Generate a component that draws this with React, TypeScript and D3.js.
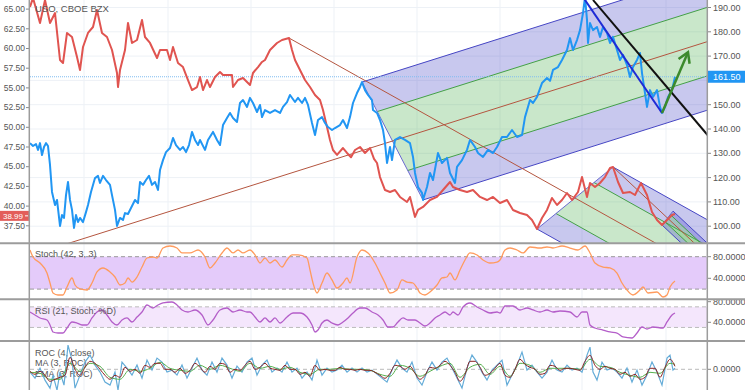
import React, { useEffect } from "react";
import * as d3 from "d3";

type P = [number, number];

// ---- price series (day index, price) ----
const usoClose: P[] = [[0,65.27],[3,66.41],[10,63.24],[15,66.15],[20,63.24],[25,64.5],[30,58.54],[33,58.16],[37,61.97],[42,61.46],[47,58.92],[50,57.27],[53,60.19],[58,61.97],[63,62.73],[67,64.89],[72,61.97],[77,61.46],[82,59.81],[87,56.89],[88,55.11],[90,57.27],[95,59.81],[98,63.24],[102,60.7],[107,61.08],[112,63.62],[115,61.46],[120,60.7],[127,58.79],[130,59.81],[137,59.81],[140,58.54],[143,60.19],[148,58.16],[153,57.65],[158,56.0],[162,54.73],[167,55.11],[170,56.38],[173,54.73],[177,56.0],[180,55.11],[185,56.38],[190,57.02],[193,56.64],[197,56.64],[202,56.64],[203,55.11],[208,56.0],[213,56.26],[220,55.37],[223,56.89],[228,57.65],[232,58.29],[235,58.54],[240,59.81],[247,60.7],[252,61.08],[259,61.33],[262,59.81],[265,58.54],[270,57.27],[275,56.0],[280,55.11],[285,54.1],[290,53.46],[293,52.2],[297,50.04],[300,48.39],[303,47.12],[307,46.5],[313,47.37],[317,46.74],[321,46.2],[325,47.12],[330,47.5],[335,46.74],[340,47.37],[344,46.0],[347,45.47],[350,43.69],[355,42.04],[360,41.79],[365,42.04],[370,41.16],[377,40.52],[380,41.16],[385,38.62],[388,39.51],[393,39.89],[400,40.77],[407,41.16],[413,42.04],[420,43.06],[423,42.42],[430,42.04],[437,41.79],[443,42.04],[450,41.16],[457,40.77],[463,41.16],[470,40.39],[477,40.77],[483,39.51],[490,39.12],[497,38.87],[502,38.24],[507,37.09],[512,38.49],[517,39.51],[522,41.03],[527,40.14],[532,40.77],[537,41.66],[542,40.77],[548,41.79],[552,43.69],[557,41.16],[560,42.93],[565,42.42],[570,42.93],[575,43.69],[580,44.84],[583,44.96],[588,43.06],[593,41.66],[600,41.79],[605,41.41],[611,42.93],[617,41.41],[622,39.25],[627,38.24],[632,37.6],[637,38.24],[642,38.87],[645,38.99]];

const bzxClose: P[] = [[0,134.2],[3,133.0],[6,133.8],[8,131.4],[10,134.2],[12,129.3],[14,132.6],[16,134.2],[18,133.0],[20,125.2],[22,114.1],[25,108.7],[27,110.8],[30,100.1],[32,104.6],[34,103.4],[36,112.8],[38,118.2],[40,110.8],[42,106.7],[44,99.3],[46,104.6],[48,101.7],[50,103.4],[53,101.7],[56,105.8],[58,108.7],[61,114.1],[65,119.8],[68,120.7],[70,117.8],[73,120.7],[76,119.0],[80,117.0],[82,112.8],[85,106.7],[87,100.1],[90,103.4],[93,102.6],[95,105.4],[98,105.0],[101,107.5],[105,110.8],[108,109.5],[110,118.2],[113,117.0],[116,119.0],[119,120.7],[122,117.0],[125,118.2],[128,114.9],[130,123.1],[133,127.2],[136,130.5],[140,132.2],[143,136.3],[146,133.4],[150,131.4],[153,132.6],[156,130.5],[159,133.4],[162,138.8],[165,135.5],[168,133.4],[170,135.5],[175,131.4],[178,135.5],[183,138.8],[187,135.5],[190,133.4],[193,141.6],[197,144.5],[200,146.6],[203,144.5],[207,142.9],[210,150.7],[213,151.9],[217,149.1],[220,152.8],[223,150.7],[227,147.0],[230,149.9],[232,144.9],[235,147.8],[240,146.6],[245,147.8],[250,146.6],[253,149.1],[257,151.1],[260,154.0],[265,151.1],[268,152.8],[272,150.7],[275,152.8],[278,149.9],[282,142.5],[285,137.5],[288,143.7],[292,144.9],[295,142.5],[298,140.8],[302,139.6],[305,140.4],[310,141.6],[313,143.7],[317,140.4],[320,144.9],[323,150.7],[327,154.8],[330,157.3],[332,159.3],[335,156.0],[338,154.0],[342,151.9],[343,147.8],[347,146.6],[350,143.7],[353,139.6],[355,134.2],[357,126.0],[360,132.6],[362,127.2],[365,135.5],[370,136.7],[375,135.5],[380,134.2],[383,128.5],[385,121.9],[388,116.1],[392,113.7],[393,110.8],[397,116.1],[400,121.9],[403,119.0],[408,130.1],[412,126.0],[417,128.1],[420,121.9],[425,117.8],[427,124.4],[432,127.2],[437,131.4],[440,135.5],[445,132.6],[448,130.1],[453,128.5],[458,131.4],[463,130.1],[467,132.6],[472,136.7],[477,136.7],[482,139.6],[487,136.7],[492,137.5],[495,144.9],[500,151.9],[503,150.7],[507,153.2],[512,158.9],[517,161.0],[520,159.8],[523,164.3],[528,165.5],[532,168.4],[537,172.5],[540,177.4],[543,172.5],[547,176.6],[550,180.7],[553,187.7],[555,194.3],[557,184.9],[558,175.4],[560,183.6],[563,180.7],[567,182.0],[570,177.9],[573,182.0],[577,179.5],[580,175.4],[583,177.9],[587,172.5],[590,168.4],[593,170.5],[597,166.3],[600,161.4],[603,165.5],[607,168.4],[610,171.3],[612,163.0],[615,154.8],[617,149.1],[620,156.0],[623,153.2],[627,156.0],[630,149.1],[632,146.6],[635,149.1],[638,153.2],[642,156.0],[645,161.5]];

// ---- indicators ----
const stochK: P[] = [[0,92.4],[3,79.4],[10,68.3],[17,49.8],[20,31.3],[23,12.8],[28,9.1],[33,9.1],[37,23.9],[42,40.6],[45,27.6],[50,20.2],[57,18.3],[62,31.3],[67,51.7],[73,59.1],[80,51.7],[85,42.4],[90,27.6],[95,31.3],[98,40.6],[102,33.1],[107,42.4],[112,60.9],[117,77.6],[123,79.4],[127,77.6],[133,96.1],[140,99.8],[147,96.1],[152,86.9],[160,86.9],[168,92.4],[175,79.4],[180,59.1],[185,68.3],[192,86.9],[197,96.1],[203,86.9],[208,92.4],[213,86.9],[220,92.4],[225,83.2],[230,68.3],[235,77.6],[240,68.3],[245,73.9],[252,60.9],[257,73.9],[262,83.2],[268,83.2],[277,77.6],[280,55.4],[283,31.3],[287,12.8],[292,31.3],[297,49.8],[302,36.9],[307,22.0],[313,31.3],[317,40.6],[320,31.3],[327,79.4],[332,92.4],[338,86.9],[345,68.3],[350,49.8],[355,31.3],[360,12.8],[367,18.3],[372,36.9],[377,33.1],[383,31.3],[387,22.0],[390,12.8],[395,9.1],[400,14.6],[407,27.6],[412,40.6],[417,42.4],[420,49.8],[425,36.9],[430,55.4],[435,73.9],[440,86.9],[447,83.2],[453,73.9],[460,68.3],[467,70.1],[470,73.9],[475,92.4],[480,96.1],[487,92.4],[493,86.9],[500,98.0],[510,96.1],[517,98.0],[523,96.1],[532,99.8],[540,96.1],[548,92.4],[555,99.8],[560,86.9],[565,68.3],[573,60.9],[580,59.1],[587,49.8],[592,31.3],[597,18.3],[603,9.1],[610,18.3],[613,23.9],[618,12.8],[627,14.6],[633,5.4],[637,9.1],[640,23.9],[645,35.0]];

const rsiOfStoch: P[] = [[0,60.0],[5,54.2],[10,48.4],[17,44.5],[20,34.8],[23,21.2],[28,19.2],[33,19.2],[37,28.9],[42,40.6],[47,38.6],[52,34.8],[57,34.8],[62,48.4],[67,60.0],[72,63.9],[77,54.2],[82,40.6],[87,34.8],[92,44.5],[97,48.4],[102,40.6],[107,50.3],[112,60.0],[117,73.6],[123,67.8],[128,73.6],[133,77.5],[142,79.4],[147,73.6],[152,63.9],[158,60.0],[165,63.9],[172,54.2],[178,34.8],[183,44.5],[190,63.9],[197,67.8],[203,60.0],[210,63.9],[217,60.0],[220,60.0],[225,50.3],[230,40.6],[235,48.4],[240,40.6],[245,48.4],[250,38.6],[257,50.3],[263,58.1],[270,58.1],[277,50.3],[282,34.8],[285,21.2],[288,25.0],[292,38.6],[297,44.5],[302,38.6],[308,34.8],[313,40.6],[318,48.4],[323,58.1],[330,67.8],[335,67.8],[342,60.0],[348,54.2],[353,44.5],[358,30.9],[363,30.9],[368,40.6],[373,48.4],[378,44.5],[385,44.5],[390,38.6],[395,32.8],[400,38.6],[405,48.4],[410,54.2],[415,60.0],[420,54.2],[423,60.0],[428,54.2],[433,69.7],[440,77.5],[447,69.7],[453,63.9],[460,58.1],[467,60.0],[470,58.1],[475,71.7],[483,71.7],[490,63.9],[497,67.8],[503,63.9],[510,60.0],[517,63.9],[523,60.0],[530,61.9],[540,60.0],[547,50.3],[552,60.0],[557,60.0],[560,34.8],[565,28.9],[573,25.0],[580,21.2],[587,19.2],[593,11.5],[602,9.5],[607,19.2],[612,30.9],[617,27.0],[623,30.9],[633,28.9],[637,40.6],[642,54.2],[645,58.1]];

const roc: P[] = [[0,-1.4],[5,-4.4],[10,0.6],[15,-5.4],[20,-9.4],[23,-2.9],[27,-10.4],[30,-1.4],[34,-7.9],[38,12.1],[42,4.6],[45,-9.4],[50,-2.9],[55,3.6],[60,7.1],[65,2.1],[70,-1.4],[75,-6.4],[80,-7.9],[85,-1.4],[88,-10.4],[92,3.6],[97,0.6],[102,-2.9],[107,2.1],[112,-4.4],[117,4.6],[122,-0.4],[127,5.6],[132,3.6],[137,-1.4],[142,-0.4],[147,-2.9],[152,2.1],[157,-4.4],[162,0.6],[167,5.6],[172,-0.4],[177,-2.9],[182,3.6],[187,-1.4],[192,5.6],[197,2.1],[202,-4.4],[207,1.6],[212,-1.4],[217,3.6],[222,5.6],[227,-2.9],[232,2.1],[237,4.6],[242,-1.4],[247,0.6],[252,-1.4],[257,3.6],[262,-1.4],[267,0.6],[272,-4.4],[277,-1.4],[282,-5.4],[287,4.6],[292,-2.9],[297,0.6],[302,-1.4],[307,-0.4],[312,2.1],[317,-1.4],[322,0.6],[327,-1.4],[332,0.6],[337,-1.4],[342,-0.4],[347,-2.4],[352,-4.4],[357,-6.4],[362,-0.4],[367,4.6],[372,0.6],[377,-1.4],[382,3.6],[387,-4.4],[392,-7.9],[397,-1.4],[402,3.6],[407,-0.4],[412,3.6],[417,5.6],[422,0.6],[427,-4.4],[432,-9.4],[437,0.6],[442,7.1],[447,3.6],[452,-1.4],[457,-5.4],[462,-0.4],[467,2.1],[472,4.6],[477,-7.9],[482,-2.9],[487,2.1],[492,8.6],[497,-0.4],[502,2.1],[507,-1.4],[512,-4.4],[517,-1.4],[522,4.6],[527,-0.4],[532,-1.4],[537,2.1],[542,-0.4],[547,0.6],[552,-1.4],[557,7.1],[560,11.1],[563,-1.4],[567,-5.4],[572,3.6],[577,-0.4],[582,0.6],[587,-1.4],[592,-4.4],[597,0.6],[602,-6.4],[607,-0.4],[612,-7.9],[617,-2.9],[622,3.6],[627,-1.4],[632,-7.9],[637,5.6],[640,7.1],[643,-0.4],[645,0.6]];

const rocEMA: P[] = [[0,-1],[5,-2.5],[10,-1],[15,-3],[20,-6],[25,-5],[30,-4],[35,-3],[40,6],[45,0],[50,-3],[55,1],[60,4],[65,3],[70,0],[75,-3],[80,-5],[85,-3],[90,-4],[95,1],[100,-1],[105,0],[110,-2],[115,2],[120,1],[125,3],[130,3],[135,0],[140,0],[145,-1.5],[150,0.5],[155,-2],[160,-0.5],[165,3],[170,1],[175,-1.5],[180,1.5],[185,0],[190,3],[195,2.5],[200,-1.5],[205,0],[210,-0.5],[215,2],[220,4],[225,0],[230,1],[235,3],[240,0.5],[245,0],[250,-0.5],[255,2],[260,0],[265,0],[270,-2.5],[275,-1.5],[280,-3.5],[285,2],[290,-0.5],[295,0],[300,-0.5],[305,-0.5],[310,1],[315,0],[320,0],[325,-0.5],[330,0],[335,-0.5],[340,-0.5],[345,-1.5],[350,-3],[355,-4.5],[360,-2],[365,2],[370,1.5],[375,0],[380,1.5],[385,-2],[390,-5],[395,-3],[400,1],[405,0.5],[410,2],[415,4],[420,2],[425,-1.5],[430,-6],[435,-2.5],[440,4],[445,4],[450,1],[455,-3],[460,-2],[465,0.5],[470,3],[475,-3],[480,-4],[485,0],[490,5],[495,2.5],[500,1],[505,0],[510,-2.5],[515,-2],[520,2],[525,1.5],[530,-0.5],[535,0.5],[540,0.5],[545,0],[550,-0.5],[555,4],[560,7],[565,2],[570,0],[575,1.5],[580,0.5],[585,0],[590,-2.5],[595,-1.5],[600,-3.5],[605,-2.5],[610,-5],[615,-4],[620,0.5],[625,0.5],[630,-4],[635,1],[640,5],[645,1.5]];

const rocMA: P[] = [[0,-1.5],[10,-2],[20,-5],[30,-5],[40,3],[50,-1],[60,3],[70,1.5],[80,-4],[90,-5],[100,0],[110,-1],[120,0.5],[130,3.5],[140,0.5],[150,-0.5],[160,-1],[170,2],[180,0],[190,2],[200,0.5],[210,-1],[220,3],[230,0.5],[240,1.5],[250,0],[260,1],[270,-1.5],[280,-2.5],[290,0],[300,0],[310,0.5],[320,0],[330,0],[340,-0.5],[350,-2.5],[360,-3.5],[370,2],[380,0.5],[390,-3.5],[400,-1],[410,1.5],[420,3],[430,-4],[440,1],[450,2.5],[460,-2.5],[470,1.5],[480,-3.5],[490,3],[500,2],[510,-1.5],[520,0.5],[530,0.5],[540,0.5],[550,0],[560,5],[570,1.5],[580,1],[590,-1.5],[600,-3],[610,-4],[620,-1.5],[630,-2],[640,3],[645,2.5]];

// ---- ticks / labels ----
const leftTicks = [37.5, 40, 42.5, 45, 47.5, 50, 52.5, 55, 57.5, 60, 62.5, 65];
const rightTicks = [100, 110, 120, 130, 140, 150, 170, 180, 190];
const gridRight = [100, 110, 120, 130, 140, 150, 160, 170, 180, 190];
const gridDays = [54, 138, 221, 304, 387, 470, 552, 636];
const stochTicks = [80, 40];
const stochBands = [80, 20];
const rsiTicks = [80, 40];
const rsiBands = [70, 30];
const rocTicks = [0];
const usoLast = 38.99;
const bzxLast = 161.5;

// ---- drawings (day, price) ----
const upperFork = { p1: [25, 91.2] as P, a: [332, 159.3] as P, b: [393, 110.8] as P };
const lowerFork = { p1: [259, 61.33] as P, a: [507, 37.09] as P, b: [583, 44.96] as P };
const smallFork = { p1: [583, 44.96] as P, a: [632, 37.6] as P, b: [643, 39.37] as P };
const blackTrend: P[] = [[563, 193.1], [690, 131.5]];
const blueTrend: P[] = [[553, 194.3], [632, 146.6]];
const greenArrow: P[] = [[632, 146.6], [658, 171.6]];

// ---- layout ----
const W = 745, H = 390;
const X0 = 30, X1 = 707;
const x = d3.scaleLinear().domain([0, 675]).range([30, 705]);
const yL = d3.scaleLinear().domain([50, 65]).range([127.3, 9.1]);
const yR = d3.scaleLinear().domain([140, 190]).range([129, 7.5]);
const yS = d3.scaleLinear().domain([40, 80]).range([278.3, 256.7]);
const yRsi = d3.scaleLinear().domain([40, 80]).range([322.3, 301.7]);
const yRoc = d3.scaleLinear().domain([0, 10]).range([369.3, 349.3]);

const FONT = "'Liberation Sans', Arial, sans-serif";
const PURPLE = "rgba(72,72,200,0.30)";
const GREEN = "rgba(76,175,80,0.30)";

function lineOf(ys: d3.ScaleLinear<number, number>, curve = d3.curveLinear) {
  return d3.line<P>().x(d => x(d[0])).y(d => ys(d[1])).curve(curve);
}

function Fork({ f, ys, id }: { f: { p1: P; a: P; b: P }; ys: d3.ScaleLinear<number, number>; id: string }) {
  const p1: P = [x(f.p1[0]), ys(f.p1[1])];
  const a: P = [x(f.a[0]), ys(f.a[1])];
  const b: P = [x(f.b[0]), ys(f.b[1])];
  const m: P = [(a[0] + b[0]) / 2, (a[1] + b[1]) / 2];
  const dx = m[0] - p1[0], dy = m[1] - p1[1];
  const len = Math.hypot(dx, dy);
  const ux = dx / len, uy = dy / len;
  const L = 1500;
  const s = (k: number): P => [m[0] + k * (b[0] - m[0]), m[1] + k * (b[1] - m[1])];
  const e = (k: number): P => { const p = s(k); return [p[0] + ux * L, p[1] + uy * L]; };
  const bands: [number, number, string][] = [[-1, -0.5, PURPLE], [-0.5, 0, GREEN], [0, 0.5, GREEN], [0.5, 1, PURPLE]];
  const poly = (k1: number, k2: number) => [s(k1), e(k1), e(k2), s(k2)].map(p => p.join(",")).join(" ");
  return (
    <g>
      {bands.map(([k1, k2, c], i) => <polygon key={id + "b" + i} points={poly(k1, k2)} fill={c} stroke="none" />)}
      {[-1, 1].map(k => <line key={id + "o" + k} x1={s(k)[0]} y1={s(k)[1]} x2={e(k)[0]} y2={e(k)[1]} stroke="#4646c4" strokeWidth={1} />)}
      {[-0.5, 0.5].map(k => <line key={id + "g" + k} x1={s(k)[0]} y1={s(k)[1]} x2={e(k)[0]} y2={e(k)[1]} stroke="#43a047" strokeWidth={1} />)}
      <line x1={a[0]} y1={a[1]} x2={b[0]} y2={b[1]} stroke="#6a6ad0" strokeWidth={1} />
      <line x1={p1[0]} y1={p1[1]} x2={e(0)[0]} y2={e(0)[1]} stroke="#b4553f" strokeWidth={1} />
    </g>
  );
}

export default function App() {
  useEffect(() => {
    document.body.style.margin = "0";
  }, []);

  const redPath = lineOf(yL)(usoClose) || "";
  const bluePath = lineOf(yR)(bzxClose) || "";
  const stochPath = lineOf(yS, d3.curveMonotoneX)(stochK) || "";
  const rsiPath = lineOf(yRsi, d3.curveMonotoneX)(rsiOfStoch) || "";
  const rocPath = lineOf(yRoc)(roc) || "";
  const emaPath = lineOf(yRoc, d3.curveMonotoneX)(rocEMA) || "";
  const maPath = lineOf(yRoc, d3.curveMonotoneX)(rocMA) || "";

  // arrow head
  const as: P = [x(greenArrow[0][0]), yR(greenArrow[0][1])];
  const at: P = [x(greenArrow[1][0]), yR(greenArrow[1][1])];
  const adx = at[0] - as[0], ady = at[1] - as[1];
  const al = Math.hypot(adx, ady);
  const aux = adx / al, auy = ady / al;
  const w1: P = [at[0] - aux * 10 - auy * 6, at[1] - auy * 10 + aux * 6];
  const w2: P = [at[0] - aux * 10 + auy * 6, at[1] - auy * 10 - aux * 6];

  const lbl = { fontFamily: FONT, fontSize: 9, fill: "#555" } as const;
  const usoY = yL(usoLast) + 1.8;

  return (
    <svg width={W} height={H} style={{ position: "absolute", left: 0, top: 0, background: "#fff" }}>
      <defs>
        <clipPath id="cMain"><rect x={X0} y={0} width={X1 - X0} height={243} /></clipPath>
        <clipPath id="cStoch"><rect x={X0} y={244} width={X1 - X0} height={55} /></clipPath>
        <clipPath id="cRsi"><rect x={X0} y={300} width={X1 - X0} height={41} /></clipPath>
        <clipPath id="cRoc"><rect x={X0} y={342} width={X1 - X0} height={48} /></clipPath>
        <clipPath id="cRsiAxis"><rect x={X1} y={300} width={W - X1} height={41} /></clipPath>
      </defs>
      <rect x={0} y={0} width={W} height={H} fill="#fff" />

      {/* grid */}
      <g stroke="#edf1f6" strokeWidth={1}>
        {gridDays.map(d => <line key={"vg" + d} x1={x(d)} x2={x(d)} y1={0} y2={H} />)}
        {gridRight.map(v => <line key={"hg" + v} x1={X0} x2={X1} y1={yR(v)} y2={yR(v)} />)}
      </g>

      {/* main pane */}
      <g clipPath="url(#cMain)">
        <Fork f={upperFork} ys={yR} id="u" />
        <Fork f={lowerFork} ys={yL} id="l" />
        <Fork f={smallFork} ys={yL} id="s" />
        <line x1={X0} x2={X1} y1={yR(bzxLast)} y2={yR(bzxLast)} stroke="#7fbdf0" strokeWidth={1} strokeDasharray="1 1" />
        <path d={redPath} fill="none" stroke="#e05450" strokeWidth={2} strokeLinejoin="round" />
        <path d={bluePath} fill="none" stroke="#2196f3" strokeWidth={2} strokeLinejoin="round" />
        <line x1={x(blueTrend[0][0])} y1={yR(blueTrend[0][1])} x2={x(blueTrend[1][0])} y2={yR(blueTrend[1][1])} stroke="#1f2bd6" strokeWidth={2} />
        <line x1={x(blackTrend[0][0])} y1={yR(blackTrend[0][1])} x2={x(blackTrend[1][0])} y2={yR(blackTrend[1][1])} stroke="#111" strokeWidth={2} />
        <line x1={as[0]} y1={as[1]} x2={at[0]} y2={at[1]} stroke="#3c8a2c" strokeWidth={2.5} />
        <polyline points={[w1, at, w2].map(p => p.join(",")).join(" ")} fill="none" stroke="#3c8a2c" strokeWidth={2.5} strokeLinejoin="miter" />
        <text x={35} y={12} {...lbl} fontSize={9.5}>USO, CBOE BZX</text>
      </g>

      {/* stoch pane */}
      <g clipPath="url(#cStoch)">
        <rect x={X0} y={yS(stochBands[0])} width={X1 - X0} height={yS(stochBands[1]) - yS(stochBands[0])} fill="#e4cbfa" />
        {stochBands.map(v => <line key={"sb" + v} x1={X0} x2={X1} y1={yS(v)} y2={yS(v)} stroke="#999" strokeDasharray="4 3" strokeWidth={1} />)}
        <path d={stochPath} fill="none" stroke="#ff9b5e" strokeWidth={1.3} />
        <text x={35} y={257} {...lbl}>Stoch (42, 3, 3)</text>
      </g>

      {/* rsi pane */}
      <g clipPath="url(#cRsi)">
        <rect x={X0} y={yRsi(rsiBands[0])} width={X1 - X0} height={yRsi(rsiBands[1]) - yRsi(rsiBands[0])} fill="#f4e6fc" />
        {rsiBands.map(v => <line key={"rb" + v} x1={X0} x2={X1} y1={yRsi(v)} y2={yRsi(v)} stroke="#bbb" strokeDasharray="4 3" strokeWidth={1} />)}
        <path d={rsiPath} fill="none" stroke="#b45ec9" strokeWidth={1.3} />
        <text x={35} y={314} {...lbl}>RSI (21, Stoch: %D)</text>
      </g>

      {/* roc pane */}
      <g clipPath="url(#cRoc)">
        <line x1={X0} x2={X1} y1={yRoc(0)} y2={yRoc(0)} stroke="#bbb" strokeDasharray="4 3" />
        <text x={35} y={356} {...lbl}>ROC (4, close)</text>
        <text x={35} y={366} {...lbl}>MA (3, ROC)</text>
        <text x={35} y={377} {...lbl}>EMA (3, ROC)</text>
        <path d={rocPath} fill="none" stroke="#64acd8" strokeWidth={1.2} />
        <path d={maPath} fill="none" stroke="#56b04f" strokeWidth={1} />
        <path d={emaPath} fill="none" stroke="#8c2424" strokeWidth={1} />
      </g>

      {/* axes */}
      <g>
        {leftTicks.map(v => (
          <g key={"lt" + v}>
            <line x1={26} x2={29} y1={yL(v)} y2={yL(v)} stroke="#888" />
            <text x={25} y={yL(v)} dy="0.32em" textAnchor="end" {...lbl} fontSize={8.5}>{d3.format(".2f")(v)}</text>
          </g>
        ))}
        <rect x={0} y={usoY - 5} width={29} height={10} fill="#e35d5a" />
        <text x={23} y={usoY} dy="0.35em" textAnchor="end" fontFamily={FONT} fontSize={8} fill="#fff">{d3.format(".2f")(usoLast)}</text>
        <line x1={25} x2={28} y1={usoY} y2={usoY} stroke="#fff" />

        {rightTicks.map(v => (
          <g key={"rt" + v}>
            <line x1={707} x2={711} y1={yR(v)} y2={yR(v)} stroke="#888" />
            <text x={713} y={yR(v)} dy="0.35em" {...lbl}>{d3.format(".2f")(v)}</text>
          </g>
        ))}
        <rect x={708} y={yR(bzxLast) - 6} width={37} height={12} fill="#2196f3" />
        <text x={713} y={yR(bzxLast)} dy="0.35em" fontFamily={FONT} fontSize={9} fill="#fff">{d3.format(".2f")(bzxLast)}</text>

        {stochTicks.map(v => (
          <g key={"st" + v}>
            <line x1={707} x2={711} y1={yS(v)} y2={yS(v)} stroke="#888" />
            <text x={713} y={yS(v)} dy="0.35em" {...lbl}>{d3.format(".4f")(v)}</text>
          </g>
        ))}
        <g clipPath="url(#cRsiAxis)">
          {rsiTicks.map(v => (
            <g key={"rs" + v}>
              <line x1={707} x2={711} y1={yRsi(v)} y2={yRsi(v)} stroke="#888" />
              <text x={713} y={yRsi(v)} dy="0.35em" {...lbl}>{d3.format(".4f")(v)}</text>
            </g>
          ))}
        </g>
        {rocTicks.map(v => (
          <g key={"rc" + v}>
            <line x1={707} x2={711} y1={yRoc(v)} y2={yRoc(v)} stroke="#888" />
            <text x={713} y={yRoc(v)} dy="0.35em" {...lbl}>{d3.format(".4f")(v)}</text>
          </g>
        ))}
      </g>

      {/* separators */}
      <g stroke="#9c9c9c">
        <line x1={29.3} x2={29.3} y1={0} y2={H} strokeWidth={1.5} />
        <line x1={707.3} x2={707.3} y1={0} y2={H} strokeWidth={1.5} />
        <line x1={0} x2={W} y1={243.3} y2={243.3} strokeWidth={2} />
        <line x1={0} x2={W} y1={299.3} y2={299.3} strokeWidth={2} />
        <line x1={0} x2={W} y1={341} y2={341} strokeWidth={2} />
      </g>
    </svg>
  );
}
